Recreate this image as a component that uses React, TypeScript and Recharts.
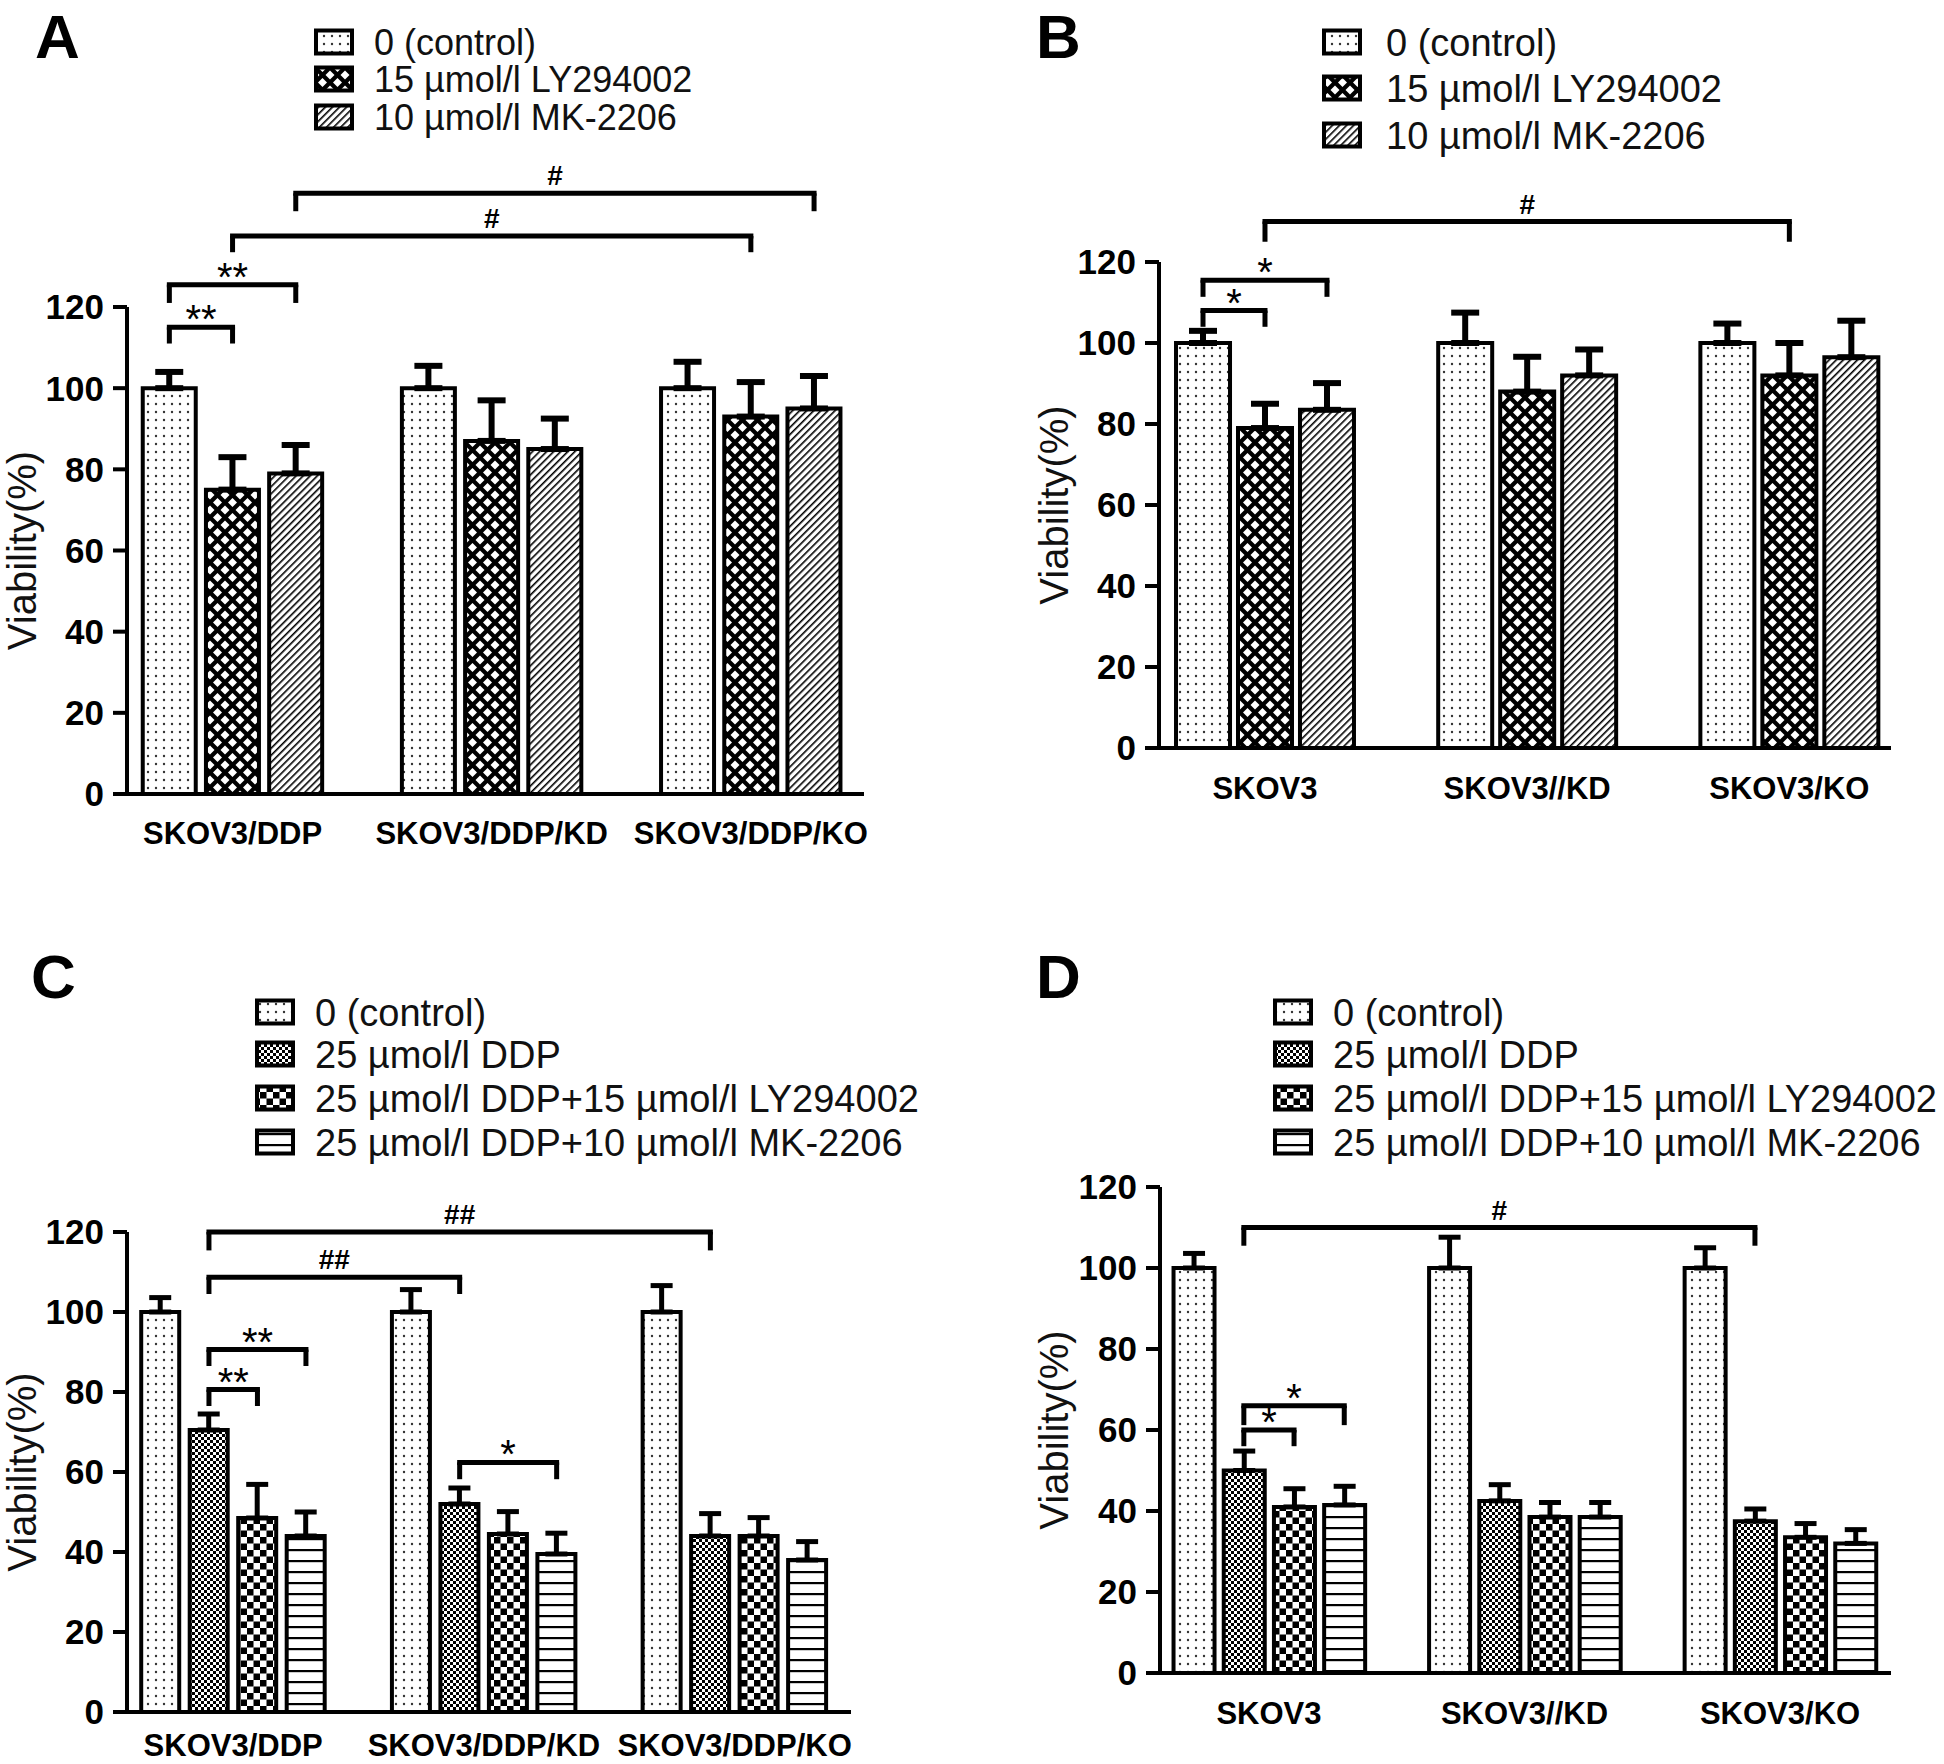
import React from 'react';
import { BarChart, Bar, XAxis, YAxis, ErrorBar, Cell, ReferenceLine } from 'recharts';

const FONT = '"Liberation Sans", Arial, Helvetica, sans-serif';
const yTicks = [0, 20, 40, 60, 80, 100, 120];

// ---- panel A ----
const groupsA = ['SKOV3/DDP', 'SKOV3/DDP/KD', 'SKOV3/DDP/KO'];
const seriesA = ['0 (control)', '15 µmol/l LY294002', '10 µmol/l MK-2206'];
const controlA = [100, 100, 100];
const controlErrA = [4, 5.5, 6.5];
const lyA = [75, 87, 93];
const lyErrA = [8, 10, 8.5];
const mkA = [79, 85, 95];
const mkErrA = [7, 7.5, 8];
// bracket: [group, bar] -> [group, bar], height, leg bottom, mark
const bracketsA = [
  { from: [0, 0], to: [0, 1], y: 115, leg: 111, text: '**' },
  { from: [0, 0], to: [0, 2], y: 125.5, leg: 121, text: '**' },
  { from: [0, 1], to: [2, 1], y: 137.5, leg: 133.5, text: '#' },
  { from: [0, 2], to: [2, 2], y: 148, leg: 143.6, text: '#' },
];

// ---- panel B ----
const groupsB = ['SKOV3', 'SKOV3//KD', 'SKOV3/KO'];
const seriesB = seriesA;
const controlB = [100, 100, 100];
const controlErrB = [3, 7.5, 4.8];
const lyB = [79, 88, 92];
const lyErrB = [6, 8.6, 8];
const mkB = [83.5, 92, 96.5];
const mkErrB = [6.6, 6.4, 9];
const bracketsB = [
  { from: [0, 0], to: [0, 1], y: 108, leg: 104, text: '*' },
  { from: [0, 0], to: [0, 2], y: 115.5, leg: 111.4, text: '*' },
  { from: [0, 1], to: [2, 1], y: 130, leg: 125, text: '#' },
];

// ---- panel C ----
const groupsC = ['SKOV3/DDP', 'SKOV3/DDP/KD', 'SKOV3/DDP/KO'];
const seriesC = ['0 (control)', '25 µmol/l DDP', '25 µmol/l DDP+15 µmol/l LY294002', '25 µmol/l DDP+10 µmol/l MK-2206'];
const controlC = [100, 100, 100];
const controlErrC = [3.6, 5.6, 6.6];
const ddpC = [70.5, 52, 44];
const ddpErrC = [4, 4, 5.6];
const ddpLyC = [48.5, 44.5, 44];
const ddpLyErrC = [8.4, 5.6, 4.6];
const ddpMkC = [44, 39.5, 38];
const ddpMkErrC = [6, 5.2, 4.6];
const bracketsC = [
  { from: [0, 1], to: [2, 1], y: 120, leg: 115.4, text: '##' },
  { from: [0, 1], to: [1, 1], y: 108.7, leg: 104.5, text: '##' },
  { from: [0, 1], to: [0, 3], y: 90.6, leg: 86.5, text: '**' },
  { from: [0, 1], to: [0, 2], y: 80.6, leg: 76.5, text: '**' },
  { from: [1, 1], to: [1, 3], y: 62.4, leg: 58.2, text: '*' },
];

// ---- panel D ----
const groupsD = ['SKOV3', 'SKOV3//KD', 'SKOV3/KO'];
const seriesD = seriesC;
const controlD = [100, 100, 100];
const controlErrD = [3.6, 7.6, 5];
const ddpD = [50, 42.5, 37.5];
const ddpErrD = [4.8, 4, 3];
const ddpLyD = [41, 38.5, 33.5];
const ddpLyErrD = [4.5, 3.6, 3.4];
const ddpMkD = [41.5, 38.5, 32];
const ddpMkErrD = [4.6, 3.6, 3.4];
const bracketsD = [
  { from: [0, 1], to: [2, 1], y: 110, leg: 105.5, text: '#' },
  { from: [0, 1], to: [0, 3], y: 66, leg: 61.2, text: '*' },
  { from: [0, 1], to: [0, 2], y: 60, leg: 56, text: '*' },
];

const patAB = ['pDots', 'pNet', 'pHatch'];
const patCD = ['pDots', 'pFine', 'pCheck', 'pLines'];

type Bracket = { from: number[]; to: number[]; y: number; leg: number; text: string };

function buildRows(values: number[][], errors: number[][], step: number) {
  const rows: { x: number; v: number; err: number[]; s: number }[] = [];
  values.forEach((serie, s) =>
    serie.forEach((v, g) => rows.push({ x: g * step + s, v, err: [0, errors[s][g]], s }))
  );
  return rows.sort((a, b) => a.x - b.x);
}

function Panel(props: any) {
  const { box, plot, lo, hi, step, barSize, capHalf, errWidth, labelX, catDy, groups, values, errors, patterns, brackets } = props;
  const rows = buildRows(values, errors, step);
  const n = values.length;
  const centers = groups.map((_: string, g: number) => g * step + (n - 1) / 2);
  const pos = (p: number[]) => p[0] * step + p[1];

  const CatTick = (p: any) => {
    const i = centers.findIndex((c: number) => Math.abs(c - p.payload.value) < 1e-6);
    return (
      <text x={p.x} y={p.y + catDy} textAnchor="middle" fontSize={31} fontWeight="bold" fontFamily={FONT} fill="#000">
        {groups[i]}
      </text>
    );
  };

  const YLabel = (p: any) => {
    const vb = p.viewBox;
    const cx = vb.x + labelX;
    const cy = vb.y + vb.height / 2;
    return (
      <text x={cx} y={cy} transform={`rotate(-90 ${cx} ${cy})`} textAnchor="middle" dominantBaseline="central"
        fontSize={40} fontFamily={FONT} fill="#111">
        Viability(%)
      </text>
    );
  };

  return (
    <div style={{ position: 'absolute', left: box.left, top: box.top, width: box.width, height: box.height }}>
      <BarChart
        width={box.width}
        height={box.height}
        data={rows}
        margin={{ top: plot.top - box.top, right: box.left + box.width - plot.right, left: 0, bottom: 0 }}
      >
        <XAxis
          dataKey="x"
          type="number"
          domain={[lo, hi]}
          allowDataOverflow
          ticks={centers}
          interval={0}
          tickLine={false}
          tickSize={0}
          tickMargin={0}
          height={box.top + box.height - plot.bottom}
          axisLine={{ stroke: '#000', strokeWidth: 4 }}
          tick={CatTick}
        />
        <YAxis
          type="number"
          domain={[0, 120]}
          allowDataOverflow
          ticks={yTicks}
          interval={0}
          width={plot.left - box.left}
          axisLine={{ stroke: '#000', strokeWidth: 4 }}
          tickLine={{ stroke: '#000', strokeWidth: 4 }}
          tickSize={14}
          tickMargin={9}
          tick={{ fill: '#000', fontSize: 35, fontWeight: 'bold', fontFamily: FONT }}
          label={{ value: 'Viability(%)', content: YLabel }}
        />
        <Bar dataKey="v" barSize={barSize} stroke="#000" strokeWidth={4} isAnimationActive={false}>
          {rows.map((r, i) => (
            <Cell key={i} fill={`url(#${patterns[r.s]})`} />
          ))}
          <ErrorBar dataKey="err" direction="y" width={capHalf} stroke="#000" strokeWidth={errWidth} isAnimationActive={false} />
        </Bar>
        {brackets.map((b: Bracket, i: number) => {
          const x1 = pos(b.from);
          const x2 = pos(b.to);
          const star = b.text.includes('*');
          return [
            <ReferenceLine
              key={`h${i}`}
              segment={[{ x: x1, y: b.y }, { x: x2, y: b.y }]}
              stroke="#000"
              strokeWidth={5}
              strokeLinecap="square"
              ifOverflow="visible"
              label={{
                value: b.text,
                position: 'top',
                offset: star ? -6 : 8,
                fill: '#000',
                fontSize: star ? 40 : 28,
                fontWeight: star ? 'normal' : 'bold',
                fontFamily: FONT,
              }}
            />,
            <ReferenceLine key={`l${i}`} segment={[{ x: x1, y: b.leg }, { x: x1, y: b.y }]} stroke="#000" strokeWidth={5} ifOverflow="visible" />,
            <ReferenceLine key={`r${i}`} segment={[{ x: x2, y: b.leg }, { x: x2, y: b.y }]} stroke="#000" strokeWidth={5} ifOverflow="visible" />,
          ];
        })}
      </BarChart>
    </div>
  );
}

function Legend({ names, patterns, boxX, rows, textX, fontSize }: any) {
  return (
    <g>
      {names.map((name: string, i: number) => (
        <g key={name}>
          <rect x={boxX} y={rows[i] - 11.5} width={36} height={23} fill={`url(#${patterns[i]})`} stroke="#000" strokeWidth={4} />
          <text x={textX} y={rows[i] + fontSize * 0.36} fontSize={fontSize} fontFamily={FONT} fill="#111">
            {name}
          </text>
        </g>
      ))}
    </g>
  );
}

export default function App() {
  return (
    <div style={{ position: 'absolute', left: 0, top: 0, width: 1944, height: 1764, background: '#fff', fontFamily: FONT }}>
      <Panel
        box={{ left: 0, top: 0, width: 900, height: 880 }}
        plot={{ left: 127, right: 864, top: 307, bottom: 794 }}
        lo={-0.67} hi={10.99} step={4.1} barSize={53} capHalf={14} errWidth={6} labelX={22} catDy={50}
        groups={groupsA} values={[controlA, lyA, mkA]} errors={[controlErrA, lyErrA, mkErrA]}
        patterns={patAB} brackets={bracketsA}
      />
      <Panel
        box={{ left: 1000, top: 0, width: 944, height: 880 }}
        plot={{ left: 1159, right: 1891, top: 262, bottom: 748 }}
        lo={-0.71} hi={11.1} step={4.23} barSize={54} capHalf={14} errWidth={6} labelX={54} catDy={51}
        groups={groupsB} values={[controlB, lyB, mkB]} errors={[controlErrB, lyErrB, mkErrB]}
        patterns={patAB} brackets={bracketsB}
      />
      <Panel
        box={{ left: 0, top: 900, width: 944, height: 864 }}
        plot={{ left: 127, right: 851, top: 1232, bottom: 1712 }}
        lo={-0.69} hi={14.24} step={5.17} barSize={38} capHalf={11} errWidth={5} labelX={22} catDy={44}
        groups={groupsC} values={[controlC, ddpC, ddpLyC, ddpMkC]} errors={[controlErrC, ddpErrC, ddpLyErrC, ddpMkErrC]}
        patterns={patCD} brackets={bracketsC}
      />
      <Panel
        box={{ left: 1000, top: 900, width: 944, height: 864 }}
        plot={{ left: 1160, right: 1891, top: 1187, bottom: 1673 }}
        lo={-0.67} hi={13.89} step={5.09} barSize={41} capHalf={11} errWidth={5} labelX={54} catDy={51}
        groups={groupsD} values={[controlD, ddpD, ddpLyD, ddpMkD]} errors={[controlErrD, ddpErrD, ddpLyErrD, ddpMkErrD]}
        patterns={patCD} brackets={bracketsD}
      />
      <svg width={1944} height={1764} style={{ position: 'absolute', left: 0, top: 0, pointerEvents: 'none' }}>
        <defs>
          <pattern id="pDots" width={8} height={8} patternUnits="userSpaceOnUse">
            <rect width={8} height={8} fill="#fff" />
            <circle cx={4} cy={4} r={1.2} fill="#333" />
          </pattern>
          <pattern id="pNet" width={15} height={15} patternUnits="userSpaceOnUse">
            <rect width={15} height={15} fill="#000" />
            <polygon points="7.5,3 12,7.5 7.5,12 3,7.5" fill="#fff" />
            <polygon points="0,-4.5 4.5,0 0,4.5 -4.5,0" fill="#fff" />
            <polygon points="15,-4.5 19.5,0 15,4.5 10.5,0" fill="#fff" />
            <polygon points="0,10.5 4.5,15 0,19.5 -4.5,15" fill="#fff" />
            <polygon points="15,10.5 19.5,15 15,19.5 10.5,15" fill="#fff" />
          </pattern>
          <pattern id="pHatch" width={5} height={5} patternUnits="userSpaceOnUse" patternTransform="rotate(45)">
            <rect width={5} height={5} fill="#fff" />
            <rect width={1.6} height={5} fill="#000" />
          </pattern>
          <pattern id="pFine" width={6} height={6} patternUnits="userSpaceOnUse">
            <rect width={6} height={6} fill="#fff" />
            <rect width={3} height={3} fill="#000" />
            <rect x={3} y={3} width={3} height={3} fill="#000" />
          </pattern>
          <pattern id="pCheck" width={13} height={13} patternUnits="userSpaceOnUse">
            <rect width={13} height={13} fill="#fff" />
            <rect width={6.5} height={6.5} fill="#000" />
            <rect x={6.5} y={6.5} width={6.5} height={6.5} fill="#000" />
          </pattern>
          <pattern id="pLines" width={10} height={11} patternUnits="userSpaceOnUse">
            <rect width={10} height={11} fill="#fff" />
            <rect y={0} width={10} height={2.2} fill="#000" />
          </pattern>
        </defs>

        <text x={35} y={58} fontSize={62} fontWeight="bold" fontFamily={FONT}>A</text>
        <text x={1036} y={58} fontSize={62} fontWeight="bold" fontFamily={FONT}>B</text>
        <text x={31} y={998} fontSize={62} fontWeight="bold" fontFamily={FONT}>C</text>
        <text x={1036} y={998} fontSize={62} fontWeight="bold" fontFamily={FONT}>D</text>

        <Legend names={seriesA} patterns={patAB} boxX={316} rows={[42, 79, 117]} textX={374} fontSize={36} />
        <Legend names={seriesB} patterns={patAB} boxX={1324} rows={[42, 88, 135]} textX={1386} fontSize={38} />
        <Legend names={seriesC} patterns={patCD} boxX={257} rows={[1012, 1054, 1098, 1142]} textX={315} fontSize={38} />
        <Legend names={seriesD} patterns={patCD} boxX={1275} rows={[1012, 1054, 1098, 1142]} textX={1333} fontSize={38} />
      </svg>
    </div>
  );
}
